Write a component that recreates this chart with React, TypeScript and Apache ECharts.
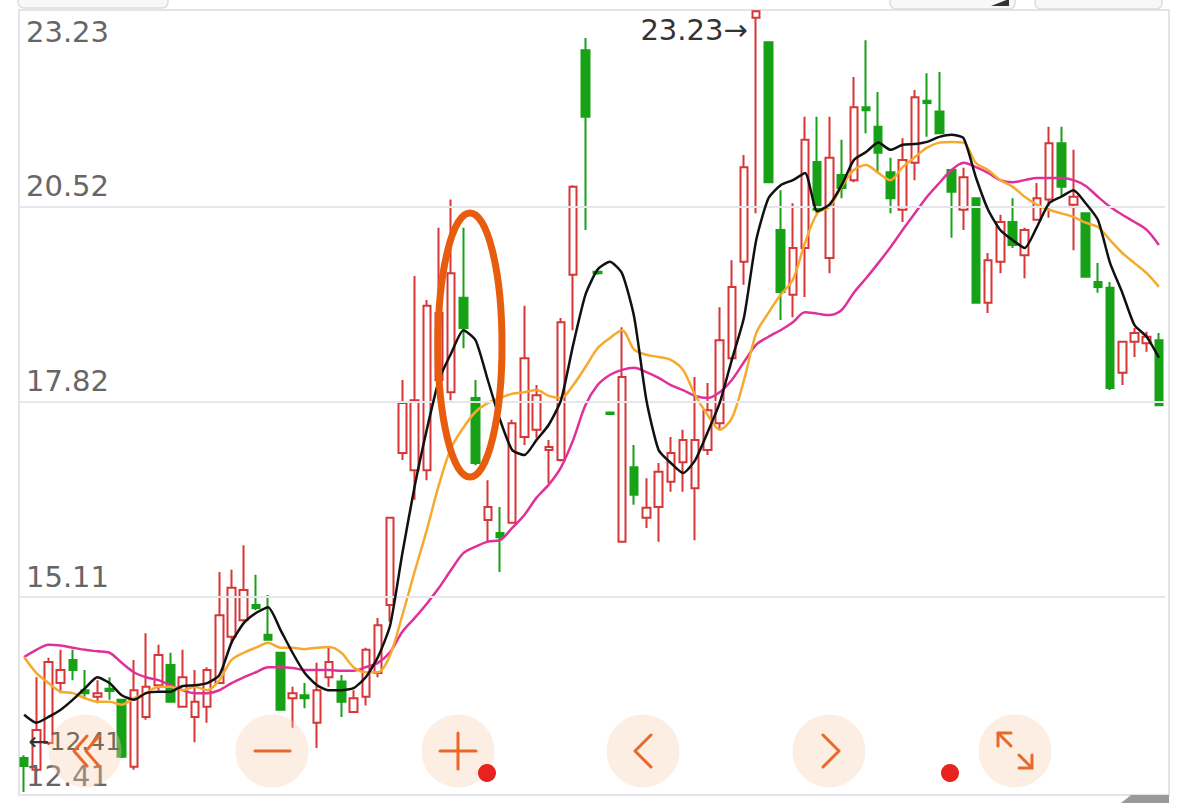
import React, { useEffect, useRef } from "react";
import * as echarts from "echarts";

// Daily candles: open, close, low, high
const opens = [
  12.88, 12.72, 13.09, 13.92, 14.24, 13.82, 13.73, 13.84, 13.69, 12.76,
  13.45, 13.89, 14.17, 13.59, 13.45, 13.59, 13.92, 14.56, 14.79, 15.0,
  14.59, 14.34, 13.71, 13.75, 13.37, 14.0, 13.94, 13.52, 13.73, 14.06,
  15.0, 17.11, 16.87, 16.87, 18.12, 17.95, 19.26, 17.87, 16.18, 16.0,
  16.14, 17.33, 17.43, 17.15, 17.01, 19.58, 22.69, 19.62, 17.67, 15.88,
  16.91, 16.21, 16.36, 16.71, 16.98, 16.62, 17.15, 17.52, 18.42, 19.76,
  23.14, 22.8, 20.2, 19.3, 19.95, 21.14, 19.81, 20.96, 20.89, 21.9,
  21.63, 21.0, 20.48, 21.13, 21.99, 21.84, 21.03, 20.48, 20.64, 19.19,
  19.76, 20.31, 19.85, 20.34, 20.62, 21.4, 20.55, 20.43, 19.48, 19.4,
  18.22, 18.65, 18.63, 18.67,
];
const closes = [
  12.77, 13.27, 14.21, 14.1, 14.1, 13.78, 13.78, 13.81, 12.9, 13.82,
  13.87, 14.31, 13.66, 14.0, 13.66, 14.1, 14.86, 15.24, 15.21, 14.96,
  14.52, 13.55, 13.78, 13.71, 13.82, 14.21, 13.66, 13.71, 14.38, 14.72,
  16.21, 17.8, 17.84, 19.15, 19.05, 19.6, 18.84, 16.97, 16.36, 15.94,
  17.52, 18.42, 17.91, 17.19, 18.92, 20.8, 21.77, 19.6, 17.65, 18.16,
  16.53, 16.35, 16.85, 17.11, 17.29, 17.29, 17.7, 18.67, 19.41, 21.07,
  23.23, 20.86, 19.34, 19.95, 21.45, 20.48, 21.2, 20.78, 21.9, 21.86,
  21.27, 20.64, 21.17, 22.04, 21.96, 21.54, 20.73, 20.93, 19.19, 19.78,
  20.31, 19.99, 20.2, 20.64, 21.4, 20.8, 20.66, 19.55, 19.41, 18.01,
  18.65, 18.77, 18.72, 17.77,
];
const lows = [
  12.41, 12.69, 13.06, 13.78, 13.96, 13.73, 13.64, 13.69, 12.88, 12.72,
  13.41, 13.82, 13.65, 13.58, 13.1, 13.37, 13.91, 14.47, 14.77, 14.93,
  14.51, 13.54, 13.3, 13.57, 13.02, 13.87, 13.45, 13.51, 13.61, 14.0,
  14.77, 17.01, 16.46, 16.73, 17.98, 17.84, 18.56, 16.94, 15.86, 15.46,
  16.13, 17.22, 17.32, 16.69, 16.99, 18.81, 20.2, 19.58, 17.64, 15.87,
  16.39, 16.07, 15.88, 16.57, 16.57, 15.9, 17.08, 17.43, 18.4, 19.44,
  20.43, 20.85, 18.95, 18.99, 19.27, 20.43, 19.6, 20.64, 20.86, 21.54,
  20.99, 20.43, 20.31, 20.89, 21.49, 21.53, 20.09, 20.2, 19.18, 19.05,
  19.6, 19.95, 19.53, 20.33, 20.37, 20.66, 19.92, 19.54, 19.33, 17.98,
  18.05, 18.44, 18.51, 17.76,
];
const highs = [
  12.92, 14.0, 14.27, 14.38, 14.38, 14.1, 13.96, 14.0, 13.7, 14.24,
  14.61, 14.45, 14.34, 14.38, 14.1, 14.14, 15.46, 15.49, 15.83, 15.42,
  15.14, 14.35, 13.87, 13.92, 14.2, 14.42, 14.03, 13.82, 14.41, 14.82,
  16.22, 18.12, 19.56, 19.23, 20.23, 20.62, 20.23, 18.12, 16.73, 16.36,
  17.57, 19.15, 18.05, 17.29, 18.98, 20.82, 22.86, 19.64, 17.68, 18.85,
  17.22, 16.76, 16.97, 17.33, 17.43, 18.16, 18.08, 19.13, 19.78, 21.24,
  23.23, 22.81, 20.75, 20.57, 21.77, 21.77, 21.77, 21.45, 22.32, 22.83,
  22.11, 21.2, 21.47, 22.14, 22.37, 22.39, 21.04, 21.06, 20.65, 19.88,
  20.41, 20.64, 20.23, 20.85, 21.63, 21.63, 21.31, 20.44, 19.74, 19.48,
  18.66, 18.84, 18.79, 18.77,
];

// Moving averages
const ma5 = [
  13.48, 13.37, 13.45, 13.55, 13.69, 13.85, 14.0, 13.92, 13.75, 13.69,
  13.78, 13.8, 13.8, 13.88, 13.89, 13.92, 14.03, 14.48, 14.75, 14.89,
  14.97, 14.66, 14.34, 14.06, 13.89, 13.82, 13.82, 13.85, 14.0, 14.28,
  14.72, 15.72, 16.64, 17.43, 18.12, 18.49, 18.81, 18.67, 18.12, 17.57,
  17.15, 17.08, 17.29, 17.5, 17.84, 18.61, 19.3, 19.65, 19.76, 19.6,
  18.99, 17.84, 17.15, 16.97, 16.83, 17.01, 17.39, 17.8, 18.4, 18.99,
  20.06, 20.64, 20.82, 20.89, 20.99, 20.46, 20.55, 20.82, 21.17, 21.28,
  21.41, 21.31, 21.38, 21.39, 21.42, 21.49, 21.52, 21.47, 20.93, 20.48,
  20.2, 20.06, 19.95, 20.24, 20.57, 20.66, 20.75, 20.57, 20.34, 19.74,
  19.33, 18.88, 18.72, 18.43,
];
const ma10 = [
  14.28, 14.06, 13.92, 13.8, 13.78, 13.71, 13.66, 13.66, 13.62, 13.71,
  13.78, 13.87, 13.87, 13.82, 13.87, 13.82, 13.96, 14.24, 14.34, 14.41,
  14.48, 14.41, 14.41, 14.39, 14.41, 14.42, 14.34, 14.14, 14.07, 14.07,
  14.31, 14.86, 15.46, 16.04, 16.67, 17.18, 17.46, 17.68, 17.8, 17.87,
  17.93, 17.95, 17.98, 17.9, 17.87, 18.05, 18.3, 18.56, 18.7, 18.81,
  18.54, 18.47, 18.44, 18.4, 18.26, 17.91, 17.64, 17.43, 17.59, 18.12,
  18.77, 19.05, 19.3, 19.51, 20.02, 20.43, 20.52, 20.8, 21.03, 21.1,
  20.99, 20.89, 21.07, 21.21, 21.34, 21.41, 21.42, 21.41, 21.13, 21.03,
  20.89, 20.8, 20.66, 20.55, 20.48, 20.43, 20.38, 20.3, 20.24, 20.06,
  19.88, 19.74, 19.6, 19.41,
];
const ma20 = [
  14.28, 14.38, 14.45, 14.44, 14.41, 14.38, 14.36, 14.34, 14.2, 14.07,
  14.0, 13.96, 13.89, 13.82, 13.78, 13.78, 13.82, 13.92, 14.0, 14.07,
  14.14, 14.14, 14.13, 14.1, 14.1, 14.1, 14.09, 14.09, 14.14, 14.2,
  14.35, 14.63, 14.82, 15.02, 15.24, 15.49, 15.72, 15.81, 15.88, 15.9,
  16.07, 16.25, 16.49, 16.67, 16.91, 17.29, 17.77, 18.05, 18.19, 18.26,
  18.29, 18.23, 18.15, 18.05, 17.98, 17.9, 17.87, 17.95, 18.12, 18.37,
  18.61, 18.72, 18.81, 18.92, 19.06, 19.04, 19.02, 19.09, 19.33, 19.53,
  19.74, 19.96, 20.2, 20.43, 20.66, 20.85, 21.03, 21.13, 21.07, 20.99,
  20.89, 20.86, 20.89, 20.92, 20.92, 20.92, 20.89, 20.81, 20.66, 20.52,
  20.41, 20.31, 20.2, 19.99,
];

const yTickValues = [23.23, 20.52, 17.82, 15.11, 12.41];
const yTickLabels = ["23.23", "20.52", "17.82", "15.11", "12.41"];
const highIndex = 60;
const highLabel = "23.23→";
const lowIndex = 0;
const lowLabel = "←12.41";

const days = opens.map((_, i) => `D${i + 1}`);

const RED = "#d63636";
const GREEN = "#16a116";
const ICON = "#e8692b";

export default function App() {
  const ref = useRef<HTMLDivElement>(null);

  useEffect(() => {
    if (!ref.current) return;
    const chart = echarts.init(ref.current, null, { renderer: "svg" });
    const candles = opens.map((o, i) => [o, closes[i], lows[i], highs[i]]);

    const btnX = [85, 272, 458, 643, 829, 1015];
    const btnY = 751;
    const iconStyle = { stroke: ICON, lineWidth: 3, fill: "none", lineCap: "round", lineJoin: "round" };

    const graphic: any[] = [
      { type: "rect", silent: true, z: 0, shape: { x: 19, y: 10, width: 1150, height: 785 }, style: { fill: "none", stroke: "#e3e3e9", lineWidth: 2 } },
      { type: "rect", silent: true, z: 5, shape: { x: 18, y: -12, width: 150, height: 20, r: 6 }, style: { fill: "#f8f8f8", stroke: "#dcdcdc", lineWidth: 1.5 } },
      { type: "rect", silent: true, z: 5, shape: { x: 890, y: -12, width: 125, height: 21, r: 6 }, style: { fill: "#f8f8f8", stroke: "#dcdcdc", lineWidth: 1.5 } },
      { type: "rect", silent: true, z: 5, shape: { x: 1035, y: -12, width: 127, height: 21, r: 6 }, style: { fill: "#f8f8f8", stroke: "#dcdcdc", lineWidth: 1.5 } },
      { type: "polygon", silent: true, z: 6, shape: { points: [[991, 6], [1009, 6], [1009, -1]] }, style: { fill: "#333" } },
      { type: "polygon", silent: true, z: 6, shape: { points: [[1121, 803], [1131, 795], [1169, 795], [1169, 803]] }, style: { fill: "#9a9a9a" } },
      // orange ellipse annotation
      { type: "ellipse", silent: true, z: 30, shape: { cx: 470, cy: 345, rx: 32, ry: 132 }, style: { fill: "none", stroke: "#e85d0d", lineWidth: 7 } },
    ];
    btnX.forEach((x) => {
      graphic.push({ type: "circle", silent: true, z: 20, shape: { cx: x, cy: btnY, r: 36.5 }, style: { fill: "rgba(248,206,178,0.35)" } });
    });
    graphic.push(
      { type: "polyline", silent: true, z: 21, shape: { points: [[87, 736], [74, 751], [87, 766]] }, style: iconStyle },
      { type: "polyline", silent: true, z: 21, shape: { points: [[99, 736], [86, 751], [99, 766]] }, style: iconStyle },
      { type: "line", silent: true, z: 21, shape: { x1: 255, y1: 751, x2: 290, y2: 751 }, style: iconStyle },
      { type: "line", silent: true, z: 21, shape: { x1: 440, y1: 751, x2: 476, y2: 751 }, style: iconStyle },
      { type: "line", silent: true, z: 21, shape: { x1: 458, y1: 733, x2: 458, y2: 769 }, style: iconStyle },
      { type: "polyline", silent: true, z: 21, shape: { points: [[651, 735], [635, 751], [651, 767]] }, style: iconStyle },
      { type: "polyline", silent: true, z: 21, shape: { points: [[823, 735], [839, 751], [823, 767]] }, style: iconStyle },
      { type: "polyline", silent: true, z: 21, shape: { points: [[998, 746], [998, 733], [1011, 733]] }, style: iconStyle },
      { type: "line", silent: true, z: 21, shape: { x1: 998, y1: 733, x2: 1011, y2: 746 }, style: iconStyle },
      { type: "polyline", silent: true, z: 21, shape: { points: [[1019, 768], [1032, 768], [1032, 755]] }, style: iconStyle },
      { type: "line", silent: true, z: 21, shape: { x1: 1032, y1: 768, x2: 1019, y2: 755 }, style: iconStyle },
      { type: "circle", silent: true, z: 22, shape: { cx: 487, cy: 773, r: 9 }, style: { fill: "#e8231f" } },
      { type: "circle", silent: true, z: 22, shape: { cx: 950, cy: 773, r: 9 }, style: { fill: "#e8231f" } }
    );

    const lastTick = yTickValues.length - 1;
    const option: any = {
      animation: false,
      backgroundColor: "#ffffff",
      grid: { left: 18, right: 22, top: 11.3, bottom: 11 },
      xAxis: { type: "category", data: days, boundaryGap: true, show: false },
      yAxis: { type: "value", min: 12.41, max: 23.23, show: false, scale: true },
      series: [
        {
          type: "candlestick",
          data: candles,
          barWidth: 8,
          z: 2,
          itemStyle: { color: "#ffffff", color0: GREEN, borderColor: RED, borderColor0: GREEN, borderWidth: 2 },
          markLine: {
            silent: true,
            symbol: ["none", "none"],
            lineStyle: { color: "#e6e6ec", width: 2, type: "solid" },
            label: { show: true, color: "#666666", fontSize: 29, fontFamily: "DejaVu Sans", distance: [8, 6] },
            data: yTickValues.map((v, i) => ({
              yAxis: v,
              label: {
                formatter: yTickLabels[i],
                position: i === 0 ? "insideStartBottom" : "insideStartTop",
                distance: i === lastTick ? [8, 2] : [8, 6],
              },
              lineStyle: i === 0 || i === lastTick ? { color: "rgba(0,0,0,0)" } : undefined,
            })),
          },
          markPoint: {
            silent: true,
            symbol: "circle",
            symbolSize: 1,
            itemStyle: { color: "rgba(0,0,0,0)" },
            data: [
              {
                coord: [highIndex, highs[highIndex]],
                label: { show: true, formatter: highLabel, position: "left", distance: 8, offset: [0, 19], color: "#333", fontSize: 29, fontFamily: "DejaVu Sans" },
              },
              {
                coord: [lowIndex, lows[lowIndex]],
                label: { show: true, formatter: lowLabel, position: "right", distance: 4, offset: [0, -51], color: "#333", fontSize: 25, fontFamily: "DejaVu Sans" },
              },
            ],
          },
        },
        { type: "line", data: ma20, symbol: "none", smooth: 0.3, z: 3, lineStyle: { color: "#e0309a", width: 2.5 } },
        { type: "line", data: ma10, symbol: "none", smooth: 0.3, z: 4, lineStyle: { color: "#f5aa2e", width: 2.5 } },
        { type: "line", data: ma5, symbol: "none", smooth: 0.2, z: 5, lineStyle: { color: "#111111", width: 2.5 } },
      ],
      graphic,
    };
    chart.setOption(option);
    return () => chart.dispose();
  }, []);

  return <div ref={ref} style={{ position: "absolute", left: 0, top: 0, width: 1187, height: 803 }} />;
}
